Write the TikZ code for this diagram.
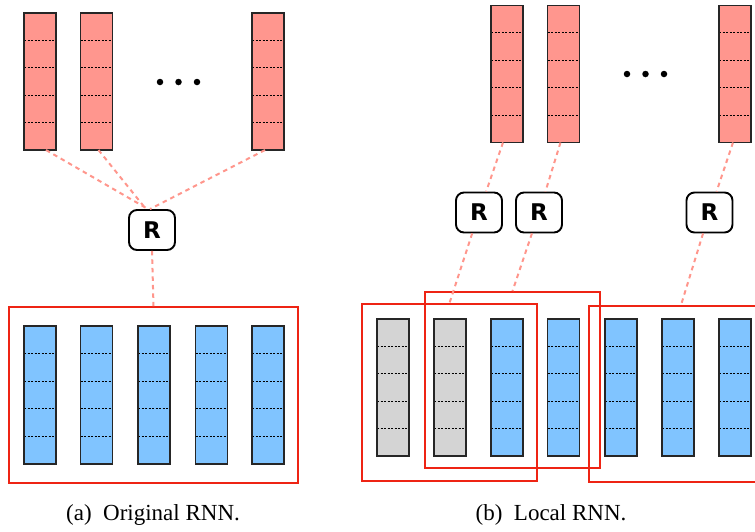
\documentclass[tikz,border=0pt]{standalone}
\usepackage{fontspec}
\setmainfont{Liberation Serif}
\newfontfamily\rfont{DejaVu Sans}
\usetikzlibrary{calc}
\definecolor{barred}{RGB}{255,150,142}
\definecolor{barblue}{RGB}{128,196,255}
\definecolor{bargray}{RGB}{212,212,212}
\definecolor{boxred}{RGB}{238,36,20}
\definecolor{linkred}{RGB}{255,150,140}
\tikzset{
  cellbar/.style={draw=black!85, line width=1.1pt, minimum width=32pt, minimum height=137pt,
    inner sep=0pt, outer sep=0pt,
    path picture={
      \foreach \k in {1,2,3,4}{
        \draw[black, line width=0.9pt, dash pattern=on 2pt off 1.5pt]
          ($(path picture bounding box.north west)!\k/5!(path picture bounding box.south west)$) --
          ($(path picture bounding box.north east)!\k/5!(path picture bounding box.south east)$);
      }}},
  redbar/.style={cellbar, fill=barred},
  bluebar/.style={cellbar, fill=barblue},
  graybar/.style={cellbar, fill=bargray},
  rnode/.style={draw=black, line width=1.9pt, rounded corners=8pt, fill=white,
    minimum width=46pt, minimum height=40pt, inner sep=0pt,
    font=\rfont\bfseries\fontsize{23}{23}\selectfont},
  groupbox/.style={draw=boxred, line width=1.9pt},
  link/.style={draw=linkred, line width=2pt, dash pattern=on 4.5pt off 4pt},
  dotmark/.style={circle, fill=black, inner sep=0pt, minimum size=6.5pt},
  captext/.style={font=\fontsize{23}{23}\selectfont, inner sep=0pt}
}
\begin{document}
\begin{tikzpicture}[x=1pt,y=-1pt]
\useasboundingbox (0,0) rectangle (755,531);
\clip (0,0) rectangle (755,531);

% ---------- (a) ----------
\node[redbar] (ta1) at (40,81.5) {};
\node[redbar] (ta2) at (96.5,81.5) {};
\node[redbar] (ta3) at (268,81.5) {};
\node[dotmark] (da1) at (160,82) {};
\node[dotmark] (da2) at (178.5,82) {};
\node[dotmark] (da3) at (197,82) {};

\node[groupbox, minimum width=289pt, minimum height=176pt, inner sep=0pt] (ga) at (153.5,395) {};
\foreach \i/\x in {1/40,2/96.5,3/154,4/211.5,5/268}{
  \node[bluebar, minimum height=138pt] (ba\i) at (\x,395) {};
}
\node[rnode] (ra) at (152,230) {R};
\draw[link] ($(ta1.south)+(6,0)$) -- ($(ra.north)+(-4,0)$);
\draw[link] ($(ta2.south)+(2,0)$) -- ($(ra.north)+(-6,0)$);
\draw[link] ($(ta3.south)+(-3,0)$) -- ($(ra.north)+(-2,0)$);
\draw[link] (ra.south) -- (ga.north);

\node[captext] (capa) at (153,515) {(a)\hspace{0.5em}Original RNN.};

% ---------- (b) ----------
\node[redbar] (tb1) at (507,74) {};
\node[redbar] (tb2) at (563.5,74) {};
\node[redbar] (tb3) at (735,74) {};
\node[dotmark] (db1) at (627,74) {};
\node[dotmark] (db2) at (645.5,74) {};
\node[dotmark] (db3) at (664,74) {};

\node[graybar] (bb1) at (393,387.5) {};
\node[graybar] (bb2) at (450,387.5) {};
\node[bluebar] (bb3) at (507,387.5) {};
\node[bluebar] (bb4) at (563.5,387.5) {};
\node[bluebar] (bb5) at (621,387.5) {};
\node[bluebar] (bb6) at (678,387.5) {};
\node[bluebar] (bb7) at (735,387.5) {};

\node[groupbox, minimum width=175pt, minimum height=177pt, inner sep=0pt] (gb1) at (449.5,392.5) {};
\node[groupbox, minimum width=175pt, minimum height=176pt, inner sep=0pt] (gb2) at (512.5,380) {};
\node[groupbox, minimum width=184pt, minimum height=176pt, inner sep=0pt] (gb3) at (681,394) {};

\node[rnode] (rb1) at (479,212.5) {R};
\node[rnode] (rb2) at (539,212.5) {R};
\node[rnode] (rb3) at (709.5,212.5) {R};

\draw[link] ($(tb1.south)+(-4,0)$) -- (rb1);
\draw[link] (rb1) -- (gb1.north);
\draw[link] ($(tb2.south)+(-3,0)$) -- (rb2);
\draw[link] (rb2) -- (gb2.north);
\draw[link] ($(tb3.south)+(-2,0)$) -- (rb3);
\draw[link] (rb3) -- (gb3.north);

\node[captext] (capb) at (551,515) {(b)\hspace{0.5em}Local RNN.};
\end{tikzpicture}
\end{document}
